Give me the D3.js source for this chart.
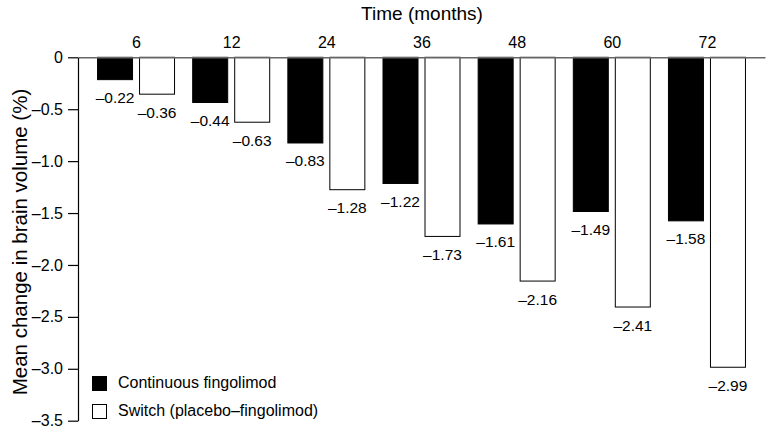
<!DOCTYPE html>
<html>
<head>
<meta charset="utf-8">
<script src="https://cdn.jsdelivr.net/npm/d3@7"></script>
<style>
  html, body { margin: 0; padding: 0; background: #fff; }
  svg { display: block; font-family: "Liberation Sans", Arial, Helvetica, sans-serif; }
</style>
</head>
<body>
<svg id="chart" width="767" height="432"></svg>
<script>
const months = ["6", "12", "24", "36", "48", "60", "72"];
const continuous = [-0.22, -0.44, -0.83, -1.22, -1.61, -1.49, -1.58];
const switchGroup = [-0.36, -0.63, -1.28, -1.73, -2.16, -2.41, -2.99];
const seriesKeys = ["cont", "switch"];
const seriesNames = ["Continuous fingolimod", "Switch (placebo\u2013fingolimod)"];
const yTicks = [0, -0.5, -1.0, -1.5, -2.0, -2.5, -3.0, -3.5];

const fmtVal = v => "\u2013" + Math.abs(v).toFixed(2);

const svg = d3.select("#chart");
const mLeft = 78, mRight = 765, mTop = 57.3, mBottom = 420.7;

const x = d3.scalePoint().domain(months).range([mLeft, mRight]).padding(0.61);
const xi = d3.scaleBand().domain(seriesKeys).range([-39, 39]).paddingInner(0.143).paddingOuter(0);
const y = d3.scaleLinear().domain([0, -3.5]).range([mTop, mBottom]);

const data = months.map((m, i) => ({ m, vals: [
  { key: "cont", v: continuous[i] },
  { key: "switch", v: switchGroup[i] }
]}));

// bars
const g = svg.append("g");
const groups = g.selectAll("g.grp").data(data).join("g")
  .attr("class", "grp")
  .attr("transform", d => `translate(${x(d.m)},0)`);

groups.selectAll("rect").data(d => d.vals).join("rect")
  .attr("x", d => xi(d.key) + 0.5)
  .attr("y", y(0))
  .attr("width", xi.bandwidth() - 1)
  .attr("height", d => y(d.v) - y(0) - 0.5)
  .attr("fill", d => d.key === "cont" ? "#000" : "#fff")
  .attr("stroke", "#000")
  .attr("stroke-width", 1);

groups.selectAll("text").data(d => d.vals).join("text")
  .attr("x", d => xi(d.key) + xi.bandwidth() / 2)
  .attr("y", d => y(d.v) + 23)
  .attr("text-anchor", "middle")
  .attr("font-size", 15.5)
  .attr("fill", "#000")
  .text(d => fmtVal(d.v));

// top axis
const xAxis = d3.axisTop(x).tickSize(0).tickPadding(9).tickSizeOuter(0);
const gx = svg.append("g").attr("transform", `translate(0,${mTop})`).call(xAxis);
gx.select(".domain").attr("stroke", "#666").attr("stroke-width", 1.5);
gx.selectAll("text").attr("font-size", 16).attr("fill", "#000")
  .attr("font-family", "Liberation Sans, Arial, sans-serif");

// left axis
const yAxis = d3.axisLeft(y).tickValues(yTicks).tickSize(10).tickPadding(5).tickSizeOuter(0)
  .tickFormat(d => d === 0 ? "0" : "\u2013" + Math.abs(d).toFixed(1));
const gy = svg.append("g").attr("transform", `translate(${mLeft},0)`).call(yAxis);
gy.select(".domain").attr("stroke", "#000").attr("stroke-width", 1.2);
gy.selectAll(".tick line").attr("stroke", "#000").attr("stroke-width", 1.2);
gy.selectAll("text").attr("font-size", 16).attr("fill", "#000")
  .attr("font-family", "Liberation Sans, Arial, sans-serif");

// titles
svg.append("text")
  .attr("x", (mLeft + mRight) / 2 + 0.5)
  .attr("y", 20)
  .attr("text-anchor", "middle")
  .attr("font-size", 19)
  .text("Time (months)");

svg.append("text")
  .attr("transform", `translate(27,${(mTop + mBottom) / 2 + 3}) rotate(-90)`)
  .attr("text-anchor", "middle")
  .attr("font-size", 20.5)
  .text("Mean change in brain volume (%)");

// legend
const legend = svg.append("g").attr("transform", "translate(92,376)");
const li = legend.selectAll("g").data(seriesKeys).join("g")
  .attr("transform", (d, i) => `translate(0,${i * 28})`);
li.append("rect")
  .attr("x", 0.5).attr("y", 0.5).attr("width", 14).attr("height", 14)
  .attr("fill", d => d === "cont" ? "#000" : "#fff")
  .attr("stroke", "#000").attr("stroke-width", 1);
li.append("text")
  .attr("x", 26).attr("y", 12)
  .attr("font-size", 16)
  .text((d, i) => seriesNames[i]);
</script>
</body>
</html>
